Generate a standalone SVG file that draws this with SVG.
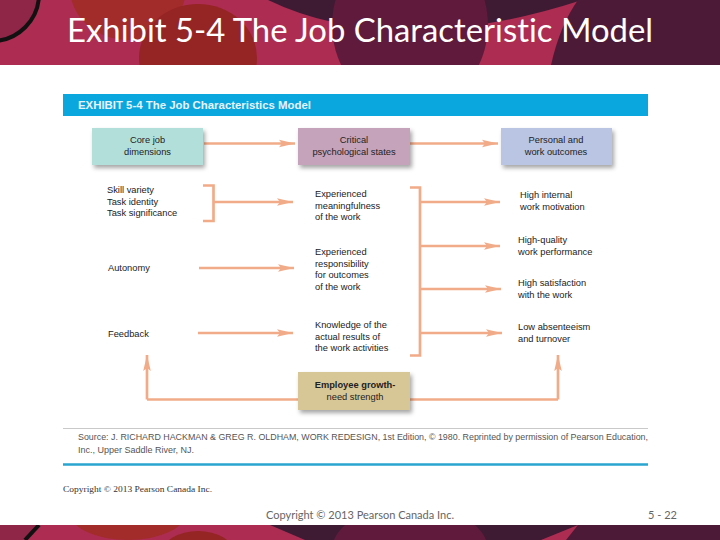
<svg xmlns="http://www.w3.org/2000/svg" width="720" height="540" viewBox="0 0 720 540">
<defs>
<marker id="ah" markerWidth="17" markerHeight="10" refX="16" refY="5" orient="auto" markerUnits="userSpaceOnUse"><path d="M0 1.200L16 5L0 8.800L3 5Z" fill="#f1ab88"/></marker>
<filter id="sh" x="-10%" y="-10%" width="125%" height="130%"><feDropShadow dx="2" dy="3" stdDeviation="2" flood-color="#000" flood-opacity=".35"/></filter>
<clipPath id="top"><rect width="720" height="65"/></clipPath>
<clipPath id="bot"><rect y="525" width="720" height="15"/></clipPath>
</defs>
<style>
.c{fill:none;stroke:#f1ab88;stroke-width:2.700}
.a{marker-end:url(#ah)}
text{font-family:"Liberation Sans",Arial,sans-serif}
.t{font-size:9.300px;fill:#222}
.m{text-anchor:middle}
.b{font-weight:700}
.f{font-family:"Lato","Liberation Sans",sans-serif;font-variant-ligatures:none}
</style>
<rect width="720" height="540" fill="#fff"/>
<g id="banner" clip-path="url(#top)">
<rect width="720" height="65" fill="#ad2c52"/>
<ellipse cx="128" cy="-12" rx="58" ry="52" fill="#a22c2a"/>
<ellipse cx="198" cy="58" rx="59" ry="54" fill="#952524"/>
<path d="M268 0Q330 30 410 30T582 0Z" fill="#3e1a33"/>
<ellipse cx="410" cy="25" rx="78" ry="85" fill="#5f1a3c"/>
<path d="M551 65Q560 25 578 0H720V65Z" fill="#4c1a36"/>
<circle cx="-8" cy="-6" r="47" fill="#8f2648" stroke="#111" stroke-width="4"/>
</g>
<g id="footer-band" clip-path="url(#bot)">
<rect y="525" width="720" height="15" fill="#ad2c52"/>
<path d="M0 525H39L25 540H0Z" fill="#8f2648"/>
<path d="M39 525L25 540" fill="none" stroke="#111" stroke-width="4"/>
<ellipse cx="128" cy="513" rx="58" ry="27" fill="#a22c2a"/>
<ellipse cx="198" cy="553" rx="36" ry="22" fill="#952524"/>
<path d="M270 525H582L566 540H305Z" fill="#3e1a33"/>
<ellipse cx="410" cy="550" rx="78" ry="45" fill="#5f1a3c"/>
<path d="M541 540L578 525H720V540Z" fill="#4c1a36"/>
<path d="M578 525L541 540H566Z" fill="#ad2c52"/>
</g>
<text class="f" x="67" y="42" font-size="33" fill="#fff" textLength="586" lengthAdjust="spacingAndGlyphs">Exhibit 5-4 The Job Characteristic Model</text>
<g id="exhibit-header">
<rect x="63" y="94" width="585" height="22" fill="#0aa6de"/>
<text x="78" y="109" font-size="10.500" font-weight="700" fill="#e6f4fa" textLength="233" lengthAdjust="spacingAndGlyphs">EXHIBIT 5-4  The Job Characteristics Model</text>
</g>
<g id="connectors">
<path class="c a" d="M204 143.500H295"/>
<path class="c a" d="M410 143.500H498"/>
<path class="c" d="M203 185.500H213.500V221H203"/>
<path class="c a" d="M213.500 202H293"/>
<path class="c a" d="M199 268H294"/>
<path class="c a" d="M198 333H293"/>
<path class="c" d="M410 187.500H420V355.500H410"/>
<path class="c a" d="M420 202H500"/>
<path class="c a" d="M420 246H500"/>
<path class="c a" d="M420 289H501"/>
<path class="c a" d="M420 333H502"/>
<path class="c" d="M298 399.500H147"/>
<path class="c a" d="M147 399.500V355"/>
<path class="c" d="M410 399.500H558"/>
<path class="c a" d="M558 399.500V355"/>
</g>
<g id="core"><rect x="92" y="128" width="111" height="37" fill="#b2dfda" filter="url(#sh)"/><text class="t m" x="147.500" y="143">Core job</text><text class="t m" x="147.500" y="154.500">dimensions</text></g>
<g id="critical"><rect x="298" y="128" width="112" height="37" fill="#c5a3bb" filter="url(#sh)"/><text class="t m" x="354" y="143">Critical</text><text class="t m" x="354" y="154.500">psychological states</text></g>
<g id="outcomes"><rect x="501" y="128" width="111" height="37" fill="#b9c5e2" filter="url(#sh)"/><text class="t m" x="556" y="143">Personal and</text><text class="t m" x="556" y="154.500">work outcomes</text></g>
<g id="growth"><rect x="298" y="372" width="112" height="38" fill="#d8c796" filter="url(#sh)"/><text class="t m b" x="355" y="388">Employee growth-</text><text class="t m" x="355" y="400">need strength</text></g>
<g id="dims"><text class="t" x="107" y="193">Skill variety</text><text class="t" x="107" y="204.500">Task identity</text><text class="t" x="107" y="216">Task significance</text></g>
<g id="autonomy"><text class="t" x="108" y="271">Autonomy</text></g>
<g id="feedback"><text class="t" x="108" y="337">Feedback</text></g>
<g id="state1"><text class="t" x="315" y="197">Experienced</text><text class="t" x="315" y="208.500">meaningfulness</text><text class="t" x="315" y="220">of the work</text></g>
<g id="state2"><text class="t" x="315" y="255">Experienced</text><text class="t" x="315" y="266.500">responsibility</text><text class="t" x="315" y="278">for outcomes</text><text class="t" x="315" y="289.500">of the work</text></g>
<g id="state3"><text class="t" x="315" y="328">Knowledge of the</text><text class="t" x="315" y="339.500">actual results of</text><text class="t" x="315" y="351">the work activities</text></g>
<g id="out1"><text class="t" x="520" y="198">High internal</text><text class="t" x="520" y="209.500">work motivation</text></g>
<g id="out2"><text class="t" x="518" y="243">High-quality</text><text class="t" x="518" y="254.500">work performance</text></g>
<g id="out3"><text class="t" x="518" y="286">High satisfaction</text><text class="t" x="518" y="297.500">with the work</text></g>
<g id="out4"><text class="t" x="518" y="330">Low absenteeism</text><text class="t" x="518" y="341.500">and turnover</text></g>
<g id="source">
<path d="M63 428.500H648" stroke="#c9c9c9" stroke-width="1"/>
<text x="78" y="440" font-size="9" fill="#555" textLength="570" lengthAdjust="spacingAndGlyphs">Source: J. RICHARD HACKMAN &amp; GREG R. OLDHAM, WORK REDESIGN, 1st Edition, © 1980. Reprinted by permission of Pearson Education,</text>
<text x="78" y="453" font-size="9" fill="#555">Inc., Upper Saddle River, NJ.</text>
<path d="M63 464.500H648" stroke="#2aa5d0" stroke-width="2.500"/>
<text x="63" y="492" font-size="8.500" fill="#333" style="font-family:'Liberation Serif',serif" textLength="149" lengthAdjust="spacingAndGlyphs">Copyright © 2013 Pearson Canada Inc.</text>
</g>
<text class="f" x="266" y="519" font-size="11" fill="#666" textLength="188" lengthAdjust="spacingAndGlyphs">Copyright © 2013 Pearson Canada Inc.</text>
<text class="f" x="648" y="519" font-size="11" fill="#666" textLength="29">5 - 22</text>
</svg>
